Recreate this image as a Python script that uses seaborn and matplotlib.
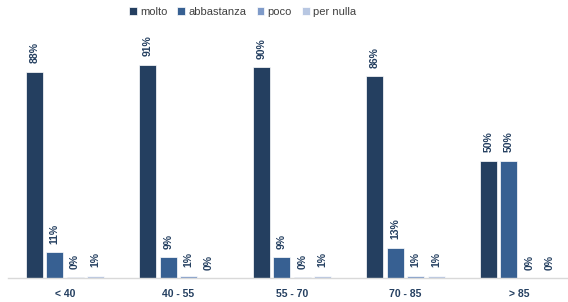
import pandas as pd
import matplotlib.pyplot as plt
import seaborn as sns

# fasce d'eta' e risposte
fasce = ["< 40", "40 - 55", "55 - 70", "70 - 85", "> 85"]
risposte = ["molto", "abbastanza", "poco", "per nulla"]
molto = [88, 91, 90, 86, 50]
abbastanza = [11, 9, 9, 13, 50]
poco = [0.4, 1, 0.4, 1, 0]
per_nulla = [1, 0, 1, 1, 0]
colori = ["#243F60", "#376092", "#7F9BC9", "#B8C7E2"]

righe = []
for i, f in enumerate(fasce):
    for r, vals in zip(risposte, [molto, abbastanza, poco, per_nulla]):
        righe.append({"fascia": f, "risposta": r, "perc": vals[i]})
df = pd.DataFrame(righe)

sns.set_style("white")
plt.rcParams["font.family"] = ["Liberation Sans", "DejaVu Sans"]

fig = plt.figure(figsize=(5.68, 3.02), dpi=100)
ax = fig.add_axes([8 / 568, 24 / 302, 1 - 8 / 568, 234.6 / 302])

sns.barplot(data=df, x="fascia", y="perc", hue="risposta", order=fasce,
            hue_order=risposte, palette=colori, width=0.72, gap=0.17,
            saturation=1, edgecolor="white", linewidth=0.5, ax=ax, legend=True)

for cont in ax.containers:
    lab = [f"{round(b.get_height())}%" for b in cont]
    ax.bar_label(cont, labels=lab, rotation=90, padding=6, fontsize=7.5,
                 fontweight="bold", color="#243F60", clip_on=False)

ax.set_ylim(0, 100)
ax.set_xlim(-0.5, 4.43)
ax.set_xlabel("")
ax.set_ylabel("")
ax.set_yticks([])
ax.tick_params(axis="x", length=0, pad=8, labelsize=7.5, colors="#243F60")
for t in ax.get_xticklabels():
    t.set_fontweight("bold")
for s in ["top", "right", "left"]:
    ax.spines[s].set_visible(False)
ax.spines["bottom"].set_color("#D9D9D9")
ax.spines["bottom"].set_linewidth(1)

ax.legend(loc="center", bbox_to_anchor=(0.419, 1.135), ncol=4,
          frameon=False, fontsize=8, handlelength=0.7, handleheight=0.7,
          handletextpad=0.3, columnspacing=0.9, labelcolor="#404040")

fig.savefig("out.png", dpi=100)
